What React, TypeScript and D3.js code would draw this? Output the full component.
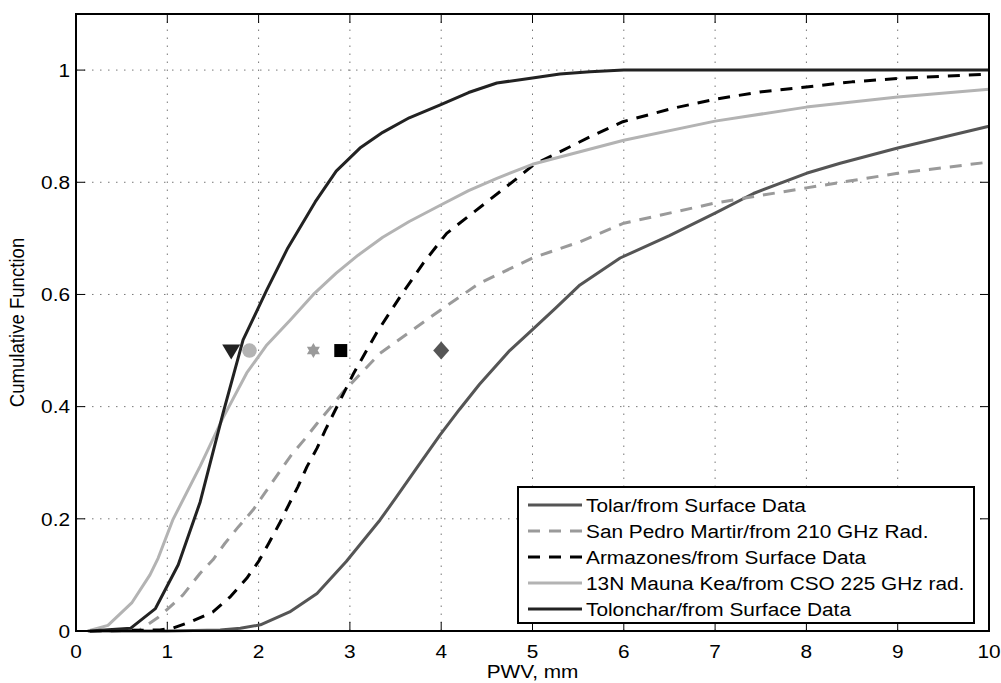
import React from "react";
import * as d3 from "d3";

const xTicks = [0, 1, 2, 3, 4, 5, 6, 7, 8, 9, 10];
const yTicks = [0, 0.2, 0.4, 0.6, 0.8, 1];
const yTickLabels = ["0", "0.2", "0.4", "0.6", "0.8", "1"];

const tolarX = [0.13, 1.0, 1.58, 1.8, 2.02, 2.34, 2.64, 2.96, 3.33, 3.51, 3.75, 3.99, 4.2, 4.42, 4.75, 4.97, 5.25, 5.52, 5.96, 6.5, 7.0, 7.42, 8.0, 8.37, 9, 10];
const tolarY = [0, 0, 0.002, 0.005, 0.011, 0.034, 0.067, 0.124, 0.198, 0.239, 0.295, 0.35, 0.395, 0.44, 0.5, 0.533, 0.575, 0.617, 0.665, 0.705, 0.745, 0.78, 0.816, 0.834, 0.861, 0.9];

const spmX = [0.13, 0.45, 0.7, 0.89, 1.03, 1.17, 1.36, 1.5, 1.63, 1.78, 1.94, 2.09, 2.23, 2.36, 2.51, 2.64, 2.78, 2.93, 3.33, 3.99, 4.42, 5.0, 5.52, 6.0, 7, 8, 9, 10];
const spmY = [0, 0, 0.002, 0.023, 0.043, 0.064, 0.103, 0.127, 0.156, 0.186, 0.216, 0.251, 0.284, 0.314, 0.343, 0.37, 0.397, 0.427, 0.495, 0.572, 0.62, 0.665, 0.694, 0.727, 0.763, 0.79, 0.816, 0.836];

const armX = [0.15, 0.92, 1.06, 1.28, 1.5, 1.69, 1.87, 2.0, 2.11, 2.23, 2.33, 2.43, 2.53, 2.64, 2.73, 2.84, 2.96, 3.04, 3.29, 3.55, 3.8, 4.06, 4.5, 4.83, 5.01, 5.27, 5.63, 5.99, 6.54, 7.0, 7.49, 8.0, 8.5, 9.0, 10];
const armY = [0, 0.002, 0.005, 0.018, 0.034, 0.061, 0.094, 0.124, 0.156, 0.192, 0.225, 0.257, 0.293, 0.326, 0.358, 0.394, 0.433, 0.459, 0.531, 0.596, 0.655, 0.709, 0.765, 0.807, 0.831, 0.852, 0.881, 0.908, 0.932, 0.948, 0.961, 0.97, 0.979, 0.985, 0.993];

const maunaX = [0.13, 0.35, 0.61, 0.81, 0.9, 1.06, 1.36, 1.61, 1.87, 2.09, 2.35, 2.6, 2.85, 3.09, 3.36, 3.65, 3.99, 4.3, 4.61, 5.0, 5.3, 6, 7, 8, 9, 10];
const maunaY = [0, 0.01, 0.05, 0.1, 0.13, 0.198, 0.294, 0.38, 0.46, 0.51, 0.555, 0.6, 0.638, 0.67, 0.702, 0.73, 0.759, 0.785, 0.807, 0.832, 0.845, 0.875, 0.909, 0.934, 0.952, 0.966];

const tolX = [0.15, 0.6, 0.87, 1.12, 1.36, 1.61, 1.83, 2.09, 2.32, 2.62, 2.85, 3.11, 3.36, 3.65, 3.99, 4.3, 4.61, 5.0, 5.3, 5.63, 6.0, 7, 8, 9, 10];
const tolY = [0, 0.005, 0.04, 0.118, 0.23, 0.388, 0.519, 0.608, 0.683, 0.765, 0.82, 0.861, 0.889, 0.915, 0.938, 0.96, 0.977, 0.986, 0.993, 0.997, 1, 1, 1, 1, 1];

const seriesNames = [
  "Tolar/from Surface Data",
  "San Pedro Martir/from 210 GHz Rad.",
  "Armazones/from Surface Data",
  "13N Mauna Kea/from CSO 225 GHz rad.",
  "Tolonchar/from Surface Data",
];
const seriesColors = ["#555555", "#9a9a9a", "#000000", "#b3b3b3", "#222222"];
const seriesDashed = [false, true, true, false, false];

const markerX = [1.7, 1.9, 2.6, 2.9, 4.0];
const markerY = [0.5, 0.5, 0.5, 0.5, 0.5];
const markerShapes = ["triangleDown", "circle", "hexagram", "square", "diamond"];
const markerColors = ["#222222", "#b3b3b3", "#9a9a9a", "#000000", "#555555"];

const FONT = "'Liberation Sans', Arial, Helvetica, sans-serif";
const SX = 1.12;

function markerPath(shape: string): string {
  if (shape === "triangleDown") return "M-9,-6L9,-6L0,9Z";
  if (shape === "square") return "M-6.5,-6.5L6.5,-6.5L6.5,6.5L-6.5,6.5Z";
  if (shape === "diamond") return "M0,-9L8,0L0,9L-8,0Z";
  if (shape === "hexagram") {
    const r = 7.5;
    const pts = (a0: number) =>
      d3.range(3).map((i) => {
        const a = a0 + (i * 2 * Math.PI) / 3;
        return [r * Math.cos(a), r * Math.sin(a)];
      });
    const t1 = pts(-Math.PI / 2);
    const t2 = pts(Math.PI / 2);
    const p = (t: number[][]) => "M" + t.map((q) => q[0].toFixed(2) + "," + q[1].toFixed(2)).join("L") + "Z";
    return p(t1) + p(t2);
  }
  return "";
}

export default function App() {
  const left = 76, right = 989, top = 14, bottom = 631;
  const x = d3.scaleLinear().domain([0, 10]).range([left, right]);
  const y = d3.scaleLinear().domain([0, 1.1]).range([bottom, top]);
  const line = d3
    .line<[number, number]>()
    .x((d) => x(d[0]))
    .y((d) => y(d[1]));

  const allX = [tolarX, spmX, armX, maunaX, tolX];
  const allY = [tolarY, spmY, armY, maunaY, tolY];
  const series = allX.map((xs, i) => xs.map((v, j) => [v, allY[i][j]] as [number, number]));

  const legL = 518, legT = 487, legR = 974, legB = 623;
  const legRow0 = 505, legStep = 26;

  return (
    <svg width={1001} height={683} style={{ position: "absolute", left: 0, top: 0, background: "#fff" }} fontFamily={FONT}>
      <rect x={0} y={0} width={1001} height={683} fill="#fff" />
      {/* grid */}
      <g stroke="#777" strokeWidth={1} strokeDasharray="1.5 6.5">
        {xTicks.slice(1, -1).map((t) => (
          <line key={"gx" + t} x1={x(t)} x2={x(t)} y1={bottom} y2={top} />
        ))}
        {yTicks.slice(1).map((t) => (
          <line key={"gy" + t} x1={left} x2={right} y1={y(t)} y2={y(t)} />
        ))}
      </g>
      {/* ticks */}
      <g stroke="#000" strokeWidth={1}>
        {xTicks.map((t) => (
          <g key={"tx" + t}>
            <line x1={x(t)} x2={x(t)} y1={bottom} y2={bottom - 9} />
            <line x1={x(t)} x2={x(t)} y1={top} y2={top + 9} />
          </g>
        ))}
        {yTicks.map((t) => (
          <g key={"ty" + t}>
            <line x1={left} x2={left + 9} y1={y(t)} y2={y(t)} />
            <line x1={right} x2={right - 9} y1={y(t)} y2={y(t)} />
          </g>
        ))}
      </g>
      {/* curves */}
      {series.map((s, i) => (
        <path
          key={"s" + i}
          d={line(s) || ""}
          fill="none"
          stroke={seriesColors[i]}
          strokeWidth={3}
          strokeDasharray={seriesDashed[i] ? "12 9" : undefined}
          strokeLinejoin="round"
        />
      ))}
      {/* markers */}
      {markerX.map((mx, i) =>
        markerShapes[i] === "circle" ? (
          <circle key={"m" + i} cx={x(mx)} cy={y(markerY[i])} r={7.3} fill={markerColors[i]} />
        ) : (
          <path key={"m" + i} d={markerPath(markerShapes[i])} transform={`translate(${x(mx)},${y(markerY[i])})`} fill={markerColors[i]} />
        )
      )}
      {/* axes box */}
      <rect x={left} y={top} width={right - left} height={bottom - top} fill="none" stroke="#000" strokeWidth={2} />
      {/* tick labels */}
      <g fontSize={18.6} fill="#000">
        {xTicks.map((t) => (
          <text key={"lx" + t} transform={`translate(${x(t)},${658}) scale(${SX},1)`} textAnchor="middle">
            {String(t)}
          </text>
        ))}
        {yTicks.map((t, i) => (
          <text key={"ly" + t} transform={`translate(${70},${y(t) + 6.7}) scale(${SX},1)`} textAnchor="end">
            {yTickLabels[i]}
          </text>
        ))}
      </g>
      {/* axis labels */}
      <text transform={`translate(${(left + right) / 2},${678}) scale(${SX},1)`} textAnchor="middle" fontSize={18.6}>
        PWV, mm
      </text>
      <text transform={`translate(${24},${(top + bottom) / 2}) scale(${SX},1) rotate(-90)`} textAnchor="middle" fontSize={18.6}>
        Cumulative Function
      </text>
      {/* legend */}
      <rect x={legL} y={legT} width={legR - legL} height={legB - legT} fill="#fff" stroke="#000" strokeWidth={2} />
      {seriesNames.map((n, i) => {
        const cy = legRow0 + i * legStep;
        return (
          <g key={"lg" + i}>
            <line x1={528} x2={582} y1={cy} y2={cy} stroke={seriesColors[i]} strokeWidth={3} strokeDasharray={seriesDashed[i] ? "12 9" : undefined} />
            <text transform={`translate(${586},${cy + 6.7}) scale(${SX},1)`} fontSize={18.6} fill="#000">
              {n}
            </text>
          </g>
        );
      })}
    </svg>
  );
}
